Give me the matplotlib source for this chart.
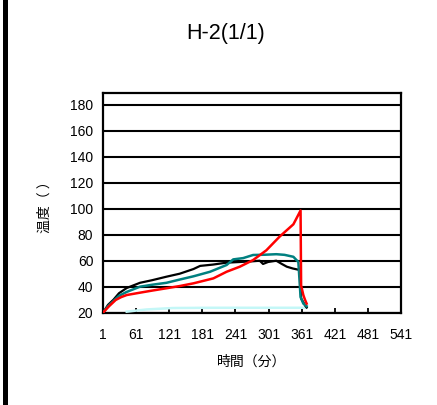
import matplotlib.pyplot as plt
from matplotlib.patches import Rectangle

plt.rcParams['font.family'] = ['Liberation Sans', 'Noto Sans CJK JP', 'DejaVu Sans']

# time (minutes) / temperature readings
black_t = [1, 10, 20, 30, 44, 56, 68, 90, 116, 140, 165, 177, 200, 225, 249, 270, 285, 291, 300, 315, 325, 334, 345, 358, 360, 364, 368, 370]
black_y = [20, 26, 30, 35, 39, 41, 43, 45, 47.7, 50, 53.6, 56, 57, 58.5, 59, 59.5, 60, 57.5, 59, 60, 57.5, 55.4, 54, 52.8, 31, 28, 25, 24]

teal_t = [1, 10, 20, 30, 44, 56, 68, 90, 116, 140, 165, 195, 225, 237, 255, 273, 295, 315, 330, 346, 355, 359, 364, 370]
teal_y = [20, 25, 29, 33, 36, 38, 40, 41.5, 43, 45.5, 48, 51.5, 56.7, 61, 62, 64.4, 64.6, 65, 64.5, 63, 59, 32, 27, 25]

red_t = [1, 12, 24, 34, 44, 56, 68, 90, 116, 140, 165, 201, 225, 249, 273, 297, 321, 346, 359, 360, 364, 367, 370]
red_y = [20, 25, 29.8, 32, 33.6, 34.5, 35.4, 37, 38.8, 40.5, 42.6, 46.4, 51.5, 55.4, 60.5, 68, 78.5, 88, 98.6, 41, 33.6, 30, 27]

cyan_t = [44, 80, 128, 200, 300, 370]
cyan_y = [20.8, 22.5, 23.6, 23.8, 23.8, 23.8]

x_ticks = [1, 61, 121, 181, 241, 301, 361, 421, 481, 541]
y_ticks = [20, 40, 60, 80, 100, 120, 140, 160, 180]

fig = plt.figure(figsize=(4.37, 4.05), dpi=100)
ax = fig.add_axes([103 / 437, 1 - 312.7 / 405, 298 / 437, 219.7 / 405])

ax.plot(cyan_t, cyan_y, color='#c4f7f7', lw=1.8, zorder=3)
ax.plot(black_t, black_y, color='black', lw=1.6, zorder=4)
ax.plot(teal_t, teal_y, color='#008080', lw=1.8, zorder=5)
ax.plot(red_t, red_y, color='#ff0000', lw=1.8, zorder=6)

ax.set_xlim(1, 541)
ax.set_ylim(20, 189)
ax.set_xticks(x_ticks)
ax.set_yticks(y_ticks)
ax.tick_params(axis='x', direction='in', length=3.5, width=1.3, pad=11, labelsize=10)
ax.tick_params(axis='y', length=0, pad=7, labelsize=10)
ax.yaxis.grid(True, color='black', lw=1.5)
ax.set_axisbelow(True)
for s in ax.spines.values():
    s.set_linewidth(1.6)

cjk = ['Noto Sans CJK JP', 'DejaVu Sans']
fig.text(252 / 437, 1 - 362 / 405, '時間（分）', ha='center', va='center', fontsize=10, family=cjk)
fig.text(45 / 437, 1 - 204 / 405, '温度（ ）', ha='center', va='center', fontsize=10,
         rotation=90, family=cjk)

fig.text(226 / 437, 1 - 33 / 405, 'H-2(1/1)', ha='center', va='center', fontsize=15.5)

# thick black bar along the left edge
fig.add_artist(Rectangle((3 / 437, 0), 4.5 / 437, 1, transform=fig.transFigure,
                         color='black', lw=0))

fig.savefig('out.png', dpi=100)
